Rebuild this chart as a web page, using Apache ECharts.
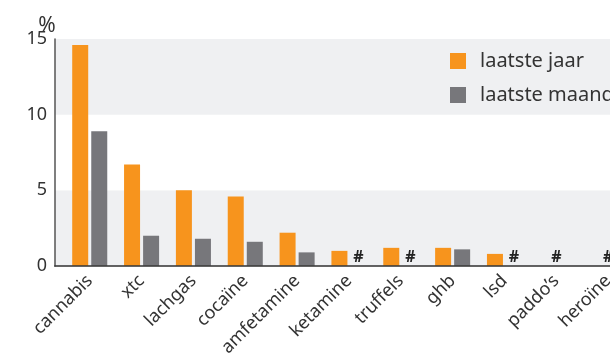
<!DOCTYPE html>
<html>
<head>
<meta charset="utf-8">
<script src="https://cdn.jsdelivr.net/npm/echarts@6/dist/echarts.min.js"></script>
<style>
html,body{margin:0;padding:0;overflow:hidden;background:#fff;}
#chart{width:660px;height:355px;}
</style>
</head>
<body>
<div id="chart"></div>
<script>
// Data
const categories = ['cannabis', 'xtc', 'lachgas', 'cocaïne', 'amfetamine', 'ketamine', 'truffels', 'ghb', 'lsd', 'paddo’s', 'heroïne'];
const lastYear  = [14.6, 6.7, 5.0, 4.6, 2.2, 1.0, 1.2, 1.2, 0.8, null, null];
const lastMonth = [8.9, 2.0, 1.8, 1.6, 0.9, null, null, 1.1, null, null, null];
// '#' = too few users to report
const hashMonthOnly = ['ketamine', 'truffels', 'lsd'];
const hashBoth = ['paddo’s', 'heroïne'];
const yTicks = [0, 5, 10, 15];
const seriesNames = ['laatste jaar', 'laatste maand'];

const FONT = '"Noto Sans", "Open Sans", sans-serif';
const ORANGE = '#F7941D';
const GREY = '#77777B';

const yearData = categories.map((c, i) => lastYear[i] == null ? null : [i, lastYear[i]]);
const monthData = categories.map((c, i) => {
  if (lastMonth[i] != null) return [i, lastMonth[i]];
  if (hashMonthOnly.includes(c)) return { value: [i, 0], label: { show: true } };
  return null;
}).filter(d => d !== null);
const bothData = hashBoth.map(c => [categories.indexOf(c), 0]);

const hashLabel = {
  show: false, position: 'top', distance: 1, formatter: '#',
  color: '#222', fontSize: 16, fontWeight: 'bold', fontFamily: FONT, opacity: 1
};

const chart = echarts.init(document.getElementById('chart'), null, { renderer: 'canvas' });
chart.setOption({
  animation: false,
  backgroundColor: '#fff',
  grid: { left: 55, right: 0, top: 39, bottom: 89, containLabel: false, outerBoundsMode: 'none' },
  legend: {
    left: 450, top: 51, orient: 'vertical', padding: 0,
    itemWidth: 16, itemHeight: 16, itemGap: 14,
    data: seriesNames,
    icon: 'rect',
    textStyle: { fontFamily: FONT, fontSize: 20, lineHeight: 16, color: '#333', padding: [0, 0, 0, 9] }
  },
  xAxis: {
    type: 'value', min: -0.67, max: 11,
    z: 5,
    splitLine: { show: false },
    axisTick: { show: false },
    axisLine: { show: true, onZero: false, lineStyle: { color: 'rgba(60,60,60,0.8)', width: 2 } },
    axisLabel: {
      customValues: categories.map((c, i) => i),
      formatter: v => categories[Math.round(v)] || '',
      rotate: 45, margin: 12,
      fontFamily: FONT, fontSize: 18, color: '#333'
    }
  },
  yAxis: {
    type: 'value', min: 0, max: 15, interval: 5,
    name: '%', nameLocation: 'end', nameGap: 2, nameMoveOverlap: false,
    nameTextStyle: { fontFamily: FONT, fontSize: 21, color: '#333', padding: [0, 16, 0, 0] },
    axisLine: { show: true, onZero: false, lineStyle: { color: '#555', width: 1.5 } },
    axisTick: { show: false },
    splitLine: { show: false },
    splitArea: { show: true, areaStyle: { color: ['#eff0f2', '#ffffff'] } },
    axisLabel: {
      customValues: yTicks,
      margin: 8, fontFamily: FONT, fontSize: 18, color: '#333'
    }
  },
  series: [
    {
      name: seriesNames[0], type: 'bar', data: yearData.filter(d => d !== null),
      barWidth: 16, barGap: '19%',
      itemStyle: { color: ORANGE }
    },
    {
      name: seriesNames[1], type: 'bar', data: monthData,
      barWidth: 16, barGap: '19%',
      itemStyle: { color: GREY },
      label: hashLabel
    },
    {
      name: 'hash', type: 'scatter', data: bothData,
      symbol: 'rect', symbolSize: [1, 0.01], itemStyle: { color: '#eff0f2', opacity: 1 },
      label: Object.assign({}, hashLabel, { show: true }),
      silent: true, clip: false, z: 6
    }
  ]
});
</script>
</body>
</html>
